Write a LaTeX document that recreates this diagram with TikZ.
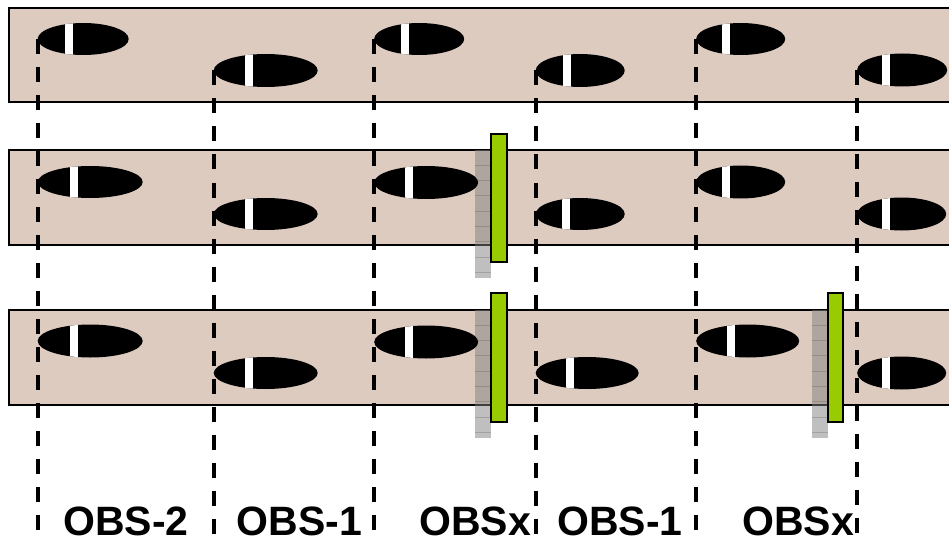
\documentclass[tikz,border=0pt]{standalone}
\usepackage{fontspec}
\setmainfont{Liberation Sans}
\usetikzlibrary{shapes.geometric}

\definecolor{bandfill}{RGB}{222,203,192}
\definecolor{barfill}{RGB}{153,204,0}

\tikzset{
  band/.style={fill=bandfill, draw=black, line width=2pt},
  printshape/.style={ellipse, fill=black, inner sep=0pt, anchor=west},
  guide/.style={draw=black, line width=4pt, dash pattern=on 15pt off 13pt},
  shadowbar/.style={fill=black!50, fill opacity=0.5, draw=none},
  shadowline/.style={draw=black, opacity=0.15, line width=1pt},
  plate/.style={fill=barfill, draw=black, line width=2pt},
  obslabel/.style={anchor=base, inner sep=0pt, font=\fontsize{41}{48}\selectfont\bfseries}
}

% #1 name, #2 left x, #3 centre y, #4 width, #5 height, #6 offset of the white stripe
\newcommand\printmark[6]{%
  \node[printshape, minimum width=#4, minimum height=#5,
    path picture={\fill[white]
      ([xshift=#6]path picture bounding box.south west) rectangle
      ([xshift=#6+8]path picture bounding box.north west);}]
    (#1) at (#2,#3) {};}

% #1 left x, #2 top y, #3 bottom y
\newcommand\shadowstrip[3]{%
  \fill[shadowbar] (#1,#2) rectangle (#1+16,#3);
  \foreach \k in {1,...,8}{\draw[shadowline] (#1,#2+15.3*\k) -- (#1+16,#2+15.3*\k);}}

\begin{document}
\begin{tikzpicture}[x=1pt, y=-1pt]
\useasboundingbox (0,0) rectangle (949,540);
\clip (0,0) rectangle (949,540);

% three strips
\draw[band] (9,8) rectangle (960,102);
\draw[band] (9,150) rectangle (960,245);
\draw[band] (9,310) rectangle (960,405);

% translucent shadows behind the plates
\shadowstrip{475}{150}{278}
\shadowstrip{475}{310}{438}
\shadowstrip{812}{310}{438}

% plates
\draw[plate] (491,134) rectangle (507,262);
\draw[plate] (491,293) rectangle (507,422);
\draw[plate] (828,293) rectangle (843,422);

% first strip
\printmark{a1}{37.5}{39}{91}{32}{27}
\printmark{a2}{213.5}{70.5}{104}{33}{31}
\printmark{a3}{374}{39}{90}{32}{27}
\printmark{a4}{535.5}{70.5}{89}{33}{27}
\printmark{a5}{696}{39}{89}{32}{26}
\printmark{a6}{857}{70}{90}{33}{25}

% second strip
\printmark{b1}{37.5}{182}{105}{32}{32}
\printmark{b2}{213.5}{214}{104}{32}{31}
\printmark{b3}{374}{182.5}{104}{33}{31}
\printmark{b4}{535.5}{214}{89}{32}{26}
\printmark{b5}{696}{182}{89}{33}{26}
\printmark{b6}{857}{214}{89}{33}{25}

% third strip
\printmark{c1}{37.5}{341}{105}{33}{32}
\printmark{c2}{213.5}{373}{104}{32}{31}
\printmark{c3}{374}{342}{104}{33}{31}
\printmark{c4}{535.5}{373}{103}{32}{30}
\printmark{c5}{696}{341}{103}{33}{31}
\printmark{c6}{857}{373}{89}{33}{25}

% guide lines down to the bottom edge
\foreach \n in {1,...,6}{
  \coordinate (g\n) at (a\n.west |- 0,540);
  \draw[guide] (a\n.west) -- (g\n);
}

% labels
\node[obslabel] (l1) at (126,535) {OBS-2};
\node[obslabel] (l2) at (299.5,535) {OBS-1};
\node[obslabel] (l3) at (475,535) {OBSx};
\node[obslabel] (l4) at (620,535) {OBS-1};
\node[obslabel] (l5) at (798,535) {OBSx};
\end{tikzpicture}
\end{document}
